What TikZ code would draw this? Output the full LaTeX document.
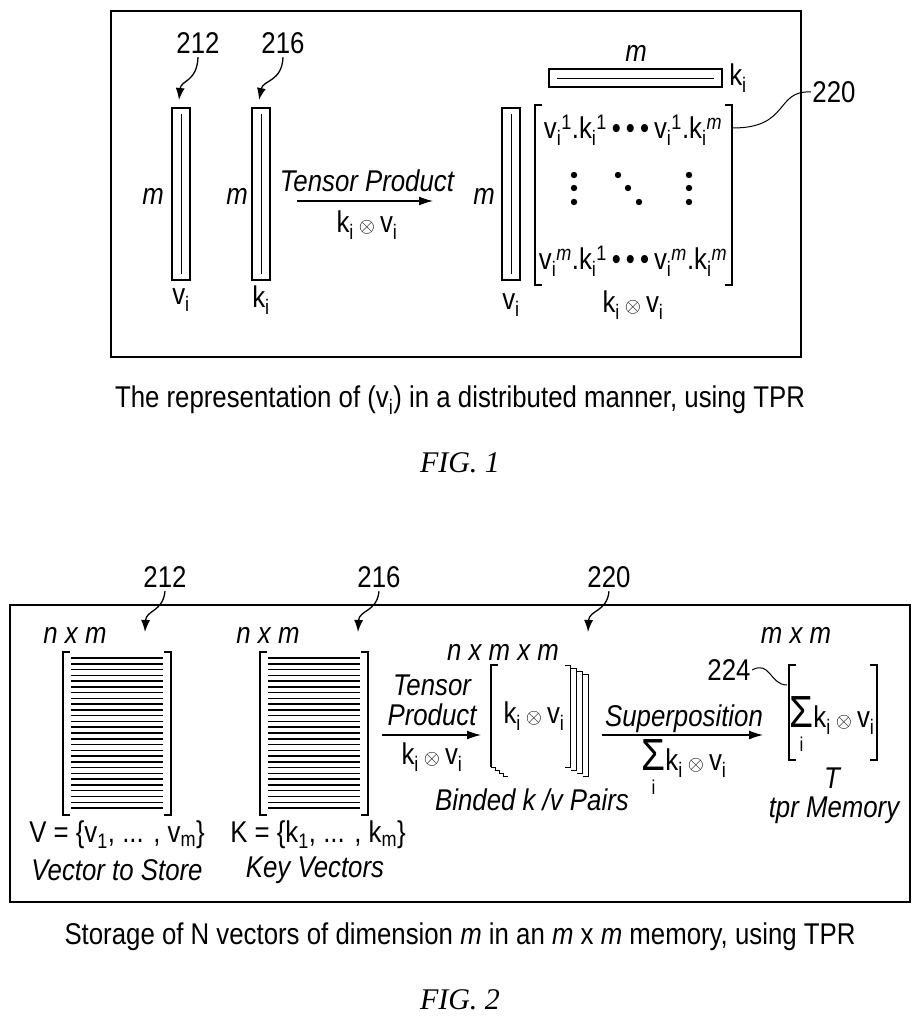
\documentclass[tikz,border=0pt]{standalone}
\usepackage{fontspec}
\usepackage{graphicx}
\setmainfont{Liberation Sans}[FakeStretch=0.86]
\newfontfamily\capfont{Liberation Serif}
\usetikzlibrary{positioning,calc,arrows.meta}
\newcommand{\lo}[1]{\textsubscript{#1}}
\newcommand{\hi}[1]{\textsuperscript{#1}}
\newcommand{\ot}{\,{\fontsize{20}{20}\selectfont$\otimes$}\,}
\newcommand{\kv}{k\lo{i}\ot v\lo{i}}
\newcommand{\sig}{\vtop{\halign{\hfil##\hfil\cr \scalebox{1.5}{Σ}\cr\noalign{\kern-6pt}{\fontsize{20}{20}\selectfont i}\cr}}}
\newcommand{\skv}{\sig k\lo{i}\ot v\lo{i}}
\newcommand{\bul}{\,\textbullet\,\textbullet\,\textbullet\,}
\begin{document}
\begin{tikzpicture}[x=1pt,y=-1pt,line width=1.3pt,
        every node/.style={font=\fontsize{30}{30}\selectfont,inner sep=1pt},
        it/.style={font=\fontsize{30}{30}\selectfont\itshape},
        ref/.style={font=\fontsize{30}{30}\selectfont},
        refarrow/.style={-{Latex[length=12pt,width=9pt]},line width=1.3pt},
        flow/.style={-{Latex[length=14pt,width=9pt]},line width=1.3pt},
        bar/.style={draw,line width=1.2pt}
      ]
      \useasboundingbox (0,0) rectangle (921,1024);

      % FIG. 1 frame
      \draw (111,11) rectangle (801,357);

      % reference numerals
      \node[ref] (r212a) at (198,43) {212};
      \node[ref] (r216a) at (283,43) {216};
      \node[ref] (r220a) at (834,92) {220};

      % the vectors v_i and k_i
      \foreach \x/\n in {181/va,261/ka,511/vb}{
        \draw[bar] (\x-9,108) rectangle (\x+9,280);
        \draw[line width=0.8pt] (\x,114) -- (\x,274);
        \coordinate (\n-top) at (\x-2,100);
      }
      \draw[refarrow] (r212a.south) ++(0,2) .. controls (197,82) and (181,80) .. (va-top);
      \draw[refarrow] (r216a.south) ++(0,2) .. controls (282,82) and (263,80) .. (ka-top);
      \node[it] (ma) at (153,196) {m};
      \node[it] (mb) at (237,196) {m};
      \node[it] (mc) at (484,196) {m};
      \node (vla) at (181,300) {v\lo{i}};
      \node (kla) at (261,300) {k\lo{i}};
      \node (vlb) at (511,305) {v\lo{i}};

      % tensor product arrow
      \node[it] (tp) at (367,181) {Tensor Product};
      \coordinate (tpa) at (297,201);
      \coordinate (tpb) at (433,201);
      \draw[flow] (tpa) -- (tpb);
      \node (tpk) at (367,225) {\kv};

      % row vector k_i
      \draw[bar] (549,69) rectangle (722,87);
      \draw[line width=0.8pt] (557,78) -- (714,78);
      \node[it] (mr) at (636,53) {m};
      \node (kr) at (738,78) {k\lo{i}};

      % the matrix
      \draw (542,105) -- (535,105) -- (535,285) -- (542,285);
      \draw (725,105) -- (732,105) -- (732,285) -- (725,285);
      \node (r1) at (633,130) {v\lo{i}\hi{1}.k\lo{i}\hi{1}\bul v\lo{i}\hi{1}.k\lo{i}\hi{\itshape m}};
      \node (rm) at (633,261) {v\lo{i}\hi{\itshape m}.k\lo{i}\hi{1}\bul v\lo{i}\hi{\itshape m}.k\lo{i}\hi{\itshape m}};
      \foreach \x in {574,689}
        \foreach \y in {175,188,202}
          \fill (\x,\y) circle (3.2pt);
      \foreach \x/\y in {618/175,628/188,639/202}
        \fill (\x,\y) circle (3.2pt);
      \node (kvm) at (633,305) {\kv};
      \coordinate (r1e) at (733,128);
      \draw[line width=1pt] (r1e) .. controls (790,128) and (775,90) .. (r220a.west);

      % caption
      \node (cap1) at (460,400) {The representation of (v\lo{i}) in a distributed manner, using TPR};
      \node[font=\fontsize{30}{34}\capfont\itshape] (fig1) at (460,463) {FIG. 1};

      % FIG. 2 frame
      \draw (10,605) rectangle (910,902);

      \node[ref] (r212b) at (165,577) {212};
      \node[ref] (r216b) at (379,577) {216};
      \node[ref] (r220b) at (609,577) {220};
      \coordinate (vt) at (145,632);
      \coordinate (kt) at (358,632);
      \coordinate (bt) at (588,632);
      \draw[refarrow] (r212b.south) ++(0,2) .. controls (163,612) and (146,610) .. (vt);
      \draw[refarrow] (r216b.south) ++(0,2) .. controls (377,612) and (359,610) .. (kt);
      \draw[refarrow] (r220b.south) ++(0,2) .. controls (607,612) and (589,610) .. (bt);

      % the matrices V and K
      \foreach \x/\n in {63/V,260/K}{
        \draw (\x+7,652) -- (\x,652) -- (\x,815) -- (\x+7,815);
        \draw (\x+101,652) -- (\x+108,652) -- (\x+108,815) -- (\x+101,815);
        \foreach \y in {0,...,26}
          \draw[line width=1.5pt] (\x+8,658+5.77*\y) -- (\x+100,658+5.77*\y);
      }
      \node[it] (nmV) at (75,635) {n x m};
      \node[it] (nmK) at (268,635) {n x m};
      \node (Vset) at (117,835) {V = \{v\lo{1}, ... , v\lo{m}\}};
      \node[it] (Vtxt) at (117,870) {Vector to Store};
      \node (Kset) at (318,835) {K = \{k\lo{1}, ... , k\lo{m}\}};
      \node[it] (Ktxt) at (315,870) {Key Vectors};

      % tensor product
      \node[it,align=center] (tp2) at (432,700) {Tensor\\Product};
      \coordinate (tp2a) at (382,735);
      \coordinate (tp2b) at (481,735);
      \draw[flow] (tp2a) -- (tp2b);
      \node (tp2k) at (432,757) {\kv};

      % binded pairs
      \draw (498,665) -- (491,665) -- (491,767);
      \foreach \i in {0,...,3}
        \draw[line width=1pt] (565+6*\i,665+3*\i) -- (570+6*\i,665+3*\i) -- (570+6*\i,767+3*\i) -- (565+6*\i,767+3*\i);
      \draw[line width=1pt] (491,767) -- (495,767) -- (495,770) -- (499,770) -- (499,773) -- (503,773) -- (503,776) -- (508,776);
      \node[it] (nmm) at (503,652) {n x m x m};
      \node (bkv) at (534,716) {\kv};
      \node[it] (btxt) at (532,800) {Binded k /v Pairs};

      % superposition
      \node[it] (sp) at (684,719) {Superposition};
      \coordinate (spa) at (602,735);
      \coordinate (spb) at (763,735);
      \draw[flow] (spa) -- (spb);
      \node (spk) at (684,767) {\skv};

      % the memory T
      \draw (796,665) -- (789,665) -- (789,760) -- (796,760);
      \draw (870,665) -- (877,665) -- (877,760) -- (870,760);
      \node[it] (mm) at (796,635) {m x m};
      \node (tkv) at (832,724) {\skv};
      \node[ref] (r224) at (729,670) {224};
      \coordinate (tl) at (787,685);
      \draw[line width=1pt] (r224.east) .. controls (770,660) and (770,685) .. (tl);
      \node[it] (T) at (832,778) {T};
      \node[it] (ttxt) at (834,810) {tpr Memory};

      % caption
      \node (cap2) at (460,937) {Storage of N vectors of dimension \textit{m} in an \textit{m} x \textit{m} memory, using TPR};
      \node[font=\fontsize{30}{34}\capfont\itshape] (fig2) at (460,1000) {FIG. 2};
\end{tikzpicture}
\end{document}
